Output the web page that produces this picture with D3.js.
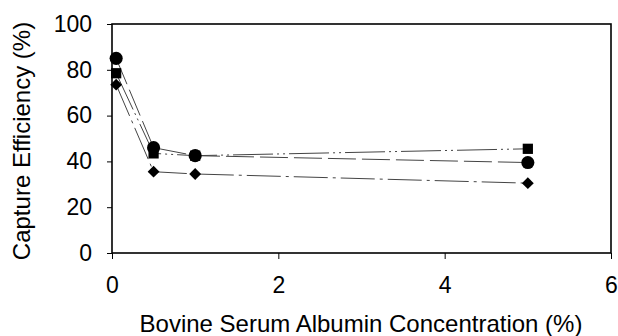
<!DOCTYPE html>
<html>
<head>
<meta charset="utf-8">
<script src="https://cdn.jsdelivr.net/npm/d3@7"></script>
<style>
  html, body { margin: 0; padding: 0; background: #fff; }
  svg { display: block; }
  text { font-family: "Liberation Sans", Arial, sans-serif; fill: #000; }
</style>
</head>
<body>
<svg id="chart" width="618" height="336"></svg>
<script>
// BSA concentration (%) and capture efficiency (%) for three series
const bsa = [0.05, 0.5, 1, 5];
const circleSeries = [85, 46, 42.5, 39.5];
const squareSeries = [78.5, 43.5, 42.5, 45.5];
const diamondSeries = [73.5, 35.5, 34.5, 30.5];
const xTicks = [0, 2, 4, 6];
const yTicks = [0, 20, 40, 60, 80, 100];
const xTitle = "Bovine Serum Albumin Concentration (%)";
const yTitle = "Capture Efficiency (%)";

const svg = d3.select("#chart");
const m = { left: 112, right: 611, top: 24, bottom: 253 };

const x = d3.scaleLinear().domain([0, 6]).range([m.left, m.right]);
const y = d3.scaleLinear().domain([0, 100]).range([m.bottom, m.top]);

// frame
svg.append("rect")
  .attr("x", m.left).attr("y", m.top)
  .attr("width", m.right - m.left).attr("height", m.bottom - m.top)
  .attr("fill", "none").attr("stroke", "#000").attr("stroke-width", 1.6);

// axes
const xAxis = svg.append("g").attr("transform", `translate(0,${m.bottom})`)
  .call(d3.axisBottom(x).tickValues(xTicks).tickFormat(d3.format("d")).tickSize(6).tickPadding(18));
const yAxis = svg.append("g").attr("transform", `translate(${m.left},0)`)
  .call(d3.axisLeft(y).tickValues(yTicks).tickFormat(d3.format("d")).tickSize(5).tickPadding(15));
[xAxis, yAxis].forEach(g => {
  g.select(".domain").remove();
  g.selectAll("line").attr("stroke", "#000").attr("stroke-width", 1);
  g.selectAll("text").attr("font-size", 23).attr("fill", "#000")
    .attr("font-family", "'Liberation Sans', Arial, sans-serif");
});

// series lines
const line = d3.line().x((d, i) => x(bsa[i])).y(d => y(d));
const series = [
  { vals: squareSeries, dash: "40,4,2,4,2,4", path: d3.symbol().type(d3.symbolSquare).size(105)(), rot: 0 },
  { vals: diamondSeries, dash: "34,5,3,5", path: d3.symbol().type(d3.symbolSquare).size(70)(), rot: 45 },
  { vals: circleSeries, dash: "28,6", path: d3.symbol().type(d3.symbolCircle).size(135)(), rot: 0 }
];

series.forEach(s => {
  svg.append("path").datum(s.vals)
    .attr("d", line)
    .attr("fill", "none")
    .attr("stroke", "#444")
    .attr("stroke-width", 1)
    .attr("stroke-dasharray", s.dash);
});
// markers: circles drawn last so they sit on top
series.forEach(s => {
  svg.append("g").selectAll("path").data(s.vals).join("path")
    .attr("transform", (d, i) => `translate(${x(bsa[i])},${y(d)}) rotate(${s.rot})`)
    .attr("d", s.path)
    .attr("fill", "#000");
});

// axis titles
svg.append("text")
  .attr("x", 361).attr("y", 332)
  .attr("text-anchor", "middle").attr("font-size", 24)
  .text(xTitle);
svg.append("text")
  .attr("transform", `translate(30,141) rotate(-90)`)
  .attr("text-anchor", "middle").attr("font-size", 24)
  .text(yTitle);
</script>
</body>
</html>
